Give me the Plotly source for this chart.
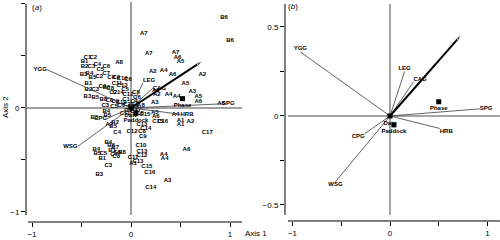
import plotly.graph_objects as go

# ---------------- data ----------------
# environmental vectors (panel a and panel b)
vec_names = ["YGG", "LEG", "CAG", "SPG", "HRB", "CPG", "WSG"]
vec_a_x = [-0.85, 0.12, 0.22, 0.92, 0.50, -0.24, -0.54]
vec_a_y = [0.37, 0.24, 0.19, 0.04, -0.06, -0.10, -0.37]
vec_b_x = [-0.92, 0.15, 0.24, 0.92, 0.51, -0.26, -0.56]
vec_b_y = [0.36, 0.25, 0.19, 0.04, -0.07, -0.10, -0.37]

# bold arrow
arrow_a = [0.72, 0.45]
arrow_b = [0.73, 0.455]

# factor centroids
fac_names = ["Phase", "Paddock", "Date"]
fac_a_x = [0.52, 0.05, 0.0]
fac_a_y = [0.09, -0.05, 0.0]
fac_b_x = [0.50, 0.04, 0.0]
fac_b_y = [0.08, -0.05, 0.0]

# site scores (panel a)
site_lab = [
    "B6", "B6", "A7", "A7", "A7", "A6", "A5", "A2", "A4", "A6", "A2", "A5", "A3", "A4", "A4",
    "A5", "A6", "A3", "A6", "A2", "A6", "A8",
    "C8", "C6", "C4", "A8", "C7",
    "C1", "C2", "B1", "B2", "C3", "C4", "C5", "C6", "B3", "B4", "C7", "B5", "C2", "C8", "C9",
    "C10", "B1", "C11", "C13", "C6", "C4", "B6", "C8", "B2", "C3", "C2", "C14", "C5", "C12",
    "B3", "B5", "B8", "C8", "C9", "C10", "C1", "C3", "C5", "C6", "C2",
    "C1", "C9", "C11", "C14", "C17",
    "B4", "B5", "B3", "B2", "B5", "A7", "C4", "C12", "C13", "C14", "C8", "C9", "C15", "C16",
    "A1", "A1", "A2", "A4", "A5", "A6", "C15", "C8", "C17", "C10", "C13", "C12", "C11", "A1",
    "C13", "C15", "C16", "C14", "A3", "A4", "A4", "A6", "B4", "B6", "B7", "B1", "C6", "B8",
    "C8", "C7", "B4", "B5", "C5", "B1", "C3", "B3",
]
site_x = [
    0.94, 1.00, 0.13, 0.18, 0.45, 0.47, 0.50, 0.22, 0.33, 0.42, 0.72, 0.55, 0.62, 0.38, 0.46,
    0.68, 0.68, 0.24, 0.91, 0.26, 0.25, -0.12,
    0.05, 0.06, 0.03, 0.10, 0.04,
    -0.44, -0.38, -0.47, -0.47, -0.40, -0.34, -0.31, -0.25, -0.48, -0.42, -0.25, -0.39, -0.32, -0.20, -0.15,
    -0.09, -0.43, -0.14, -0.09, -0.03, -0.29, -0.25, -0.21, -0.43, -0.36, -0.18, -0.13, -0.06, -0.03,
    -0.44, -0.36, -0.28, -0.22, -0.16, -0.10, -0.05, -0.26, -0.17, -0.10, -0.04,
    -0.03, 0.03, -0.06, 0.02, 0.05,
    -0.25, -0.24, -0.37, -0.16, -0.18, -0.22, -0.14, 0.01, 0.11, 0.15, 0.11, 0.12, 0.27, 0.32,
    0.50, 0.50, 0.60, 0.45, 0.24, 0.25, 0.14, 0.09, 0.77, 0.10, 0.11, 0.11, 0.02, 0.02,
    0.07, 0.16, 0.19, 0.20, 0.37, 0.33, 0.34, 0.56, -0.23, -0.20, -0.16, -0.19, -0.14, -0.09,
    -0.15, -0.17, -0.35, -0.34, -0.28, -0.29, -0.23, -0.32,
]
site_y = [
    0.87, 0.65, 0.72, 0.52, 0.53, 0.49, 0.45, 0.35, 0.36, 0.32, 0.32, 0.24, 0.16, 0.13, 0.11,
    0.11, 0.06, 0.05, 0.04, 0.13, 0.17, 0.44,
    0.15, 0.10, 0.06, 0.02, 0.03,
    0.49, 0.49, 0.45, 0.40, 0.40, 0.42, 0.37, 0.40, 0.32, 0.33, 0.33, 0.29, 0.30, 0.29, 0.29,
    0.28, 0.24, 0.24, 0.22, 0.27, 0.21, 0.20, 0.19, 0.18, 0.18, 0.15, 0.15, 0.18, 0.13,
    0.11, 0.10, 0.08, 0.07, 0.06, 0.05, 0.08, 0.02, 0.01, 0.02, 0.03,
    -0.02, -0.03, -0.05, 0.01, -0.01,
    -0.03, -0.07, -0.09, -0.14, -0.18, -0.16, -0.24, -0.23, -0.16, -0.20, -0.23, -0.27, -0.13, -0.13,
    -0.12, -0.16, -0.13, -0.06, -0.04, -0.08, -0.06, -0.05, -0.24, -0.36, -0.42, -0.46, -0.48, -0.53,
    -0.51, -0.56, -0.62, -0.76, -0.70, -0.45, -0.49, -0.40, -0.33, -0.36, -0.38, -0.41, -0.43, -0.43,
    -0.47, -0.45, -0.40, -0.44, -0.44, -0.49, -0.55, -0.64,
]

# ---------------- styling ----------------
FONT = "Liberation Sans, Arial, sans-serif"
pos_a = ["middle left", "top right", "middle right", "middle right", "middle right", "middle left", "middle left"]
pos_b = ["top center", "top center", "top right", "middle right", "bottom right", "bottom left", "bottom center"]

fig = go.Figure()


def seg(xs, ys):
    lx, ly = [], []
    for x, y in zip(xs, ys):
        lx += [0, x, None]
        ly += [0, y, None]
    return lx, ly


for (vx, vy, arr, fx, fy, pos, xa, ya, lcol) in [
    (vec_a_x, vec_a_y, arrow_a, fac_a_x, fac_a_y, pos_a, "x", "y", "#3a3a3a"),
    (vec_b_x, vec_b_y, arrow_b, fac_b_x, fac_b_y, pos_b, "x2", "y2", "#3a3a3a"),
]:
    if xa == "x":
        fig.add_trace(go.Scatter(x=site_x, y=site_y, text=site_lab, mode="text",
                                 textfont=dict(size=6, family=FONT, color="black", weight="bold"),
                                 xaxis=xa, yaxis=ya, hoverinfo="skip", cliponaxis=False))
    lx, ly = seg(vx, vy)
    fig.add_trace(go.Scatter(x=lx, y=ly, mode="lines", line=dict(color=lcol, width=0.8),
                             xaxis=xa, yaxis=ya, hoverinfo="skip"))
    fig.add_trace(go.Scatter(x=[0, arr[0]], y=[0, arr[1]], mode="lines+markers",
                             line=dict(color="black", width=2),
                             marker=dict(symbol="arrow", angleref="previous", size=[0, 6], color="black"),
                             xaxis=xa, yaxis=ya, hoverinfo="skip"))
    fig.add_trace(go.Scatter(x=vx, y=vy, text=vec_names, mode="text", textposition=pos,
                             textfont=dict(size=6, family=FONT, color="black", weight="bold"),
                             xaxis=xa, yaxis=ya, hoverinfo="skip", cliponaxis=False))
    fig.add_trace(go.Scatter(x=fx, y=fy, text=fac_names, mode="markers+text", textposition="bottom center",
                             marker=dict(symbol="square", size=5, color="black"),
                             textfont=dict(size=6, family=FONT, color="black", weight="bold"),
                             xaxis=xa, yaxis=ya, hoverinfo="skip", cliponaxis=False))

# axes frame lines and reference lines
shapes = [
    # panel a axes
    dict(type="line", xref="x domain", yref="y", x0=0, x1=0, y0=-1.03, y1=1.0, line=dict(color="black", width=1)),
    dict(type="line", xref="x", yref="y domain", x0=-1.04, x1=1.121, y0=0, y1=0, line=dict(color="black", width=1)),
    # panel a reference lines
    dict(type="line", xref="x", yref="y", x0=-1.05, x1=1.121, y0=0, y1=0, line=dict(color="#a0a0a0", width=2), layer="below"),
    dict(type="line", xref="x", yref="y", x0=0, x1=0, y0=-1.03, y1=1.019, line=dict(color="#a0a0a0", width=2), layer="below"),
    # panel b axes
    dict(type="line", xref="x2 domain", yref="y2", x0=0, x1=0, y0=-0.556, y1=0.63, line=dict(color="black", width=1)),
    dict(type="line", xref="x2", yref="y2 domain", x0=-1.046, x1=1.128, y0=0, y1=0, line=dict(color="black", width=1)),
    # panel b reference lines
    dict(type="line", xref="x2", yref="y2", x0=-1.046, x1=1.128, y0=0, y1=0, line=dict(color="#4a4a4a", width=1), layer="below"),
    dict(type="line", xref="x2", yref="y2", x0=0, x1=0, y0=-0.556, y1=0.63, line=dict(color="#4a4a4a", width=1), layer="below"),
]

tickfont = dict(size=8, family=FONT, color="black")
common = dict(showgrid=False, zeroline=False, showline=False, ticks="outside", ticklen=4,
              tickwidth=1, tickcolor="black", tickfont=tickfont, fixedrange=True)


def ann(text, px, py, angle=0):
    return dict(text=text, xref="paper", yref="paper", x=px / 500, y=1 - py / 240, showarrow=False,
                xanchor="center", yanchor="middle", textangle=angle,
                font=dict(size=8, family=FONT, color="black"))


fig.update_layout(
    width=500, height=240, margin=dict(l=0, r=0, t=0, b=0, pad=0),
    paper_bgcolor="white", plot_bgcolor="white", showlegend=False,
    xaxis=dict(domain=[0.052, 0.484], range=[-1.0606, 1.1212], tickvals=[-1, 0, 1],
               minor=dict(tickvals=[-0.5, 0.5], ticks="outside", ticklen=4, tickcolor="black"),
               anchor="y", **common),
    yaxis=dict(domain=[0.075, 0.99167], range=[-1.0962, 1.0192], tickvals=[-1, 0, 1],
               minor=dict(tickvals=[-0.5, 0.5], ticks="outside", ticklen=4, tickcolor="black"),
               anchor="x", **common),
    xaxis2=dict(domain=[0.57, 1.0], range=[-1.0769, 1.1282], tickvals=[-1, 0, 1],
                minor=dict(tickvals=[-0.5, 0.5], ticks="outside", ticklen=4, tickcolor="black"),
                anchor="y2", **common),
    yaxis2=dict(domain=[0.0792, 0.99167], range=[-0.5899, 0.6404], tickvals=[-0.5, 0, 0.5],
                minor=dict(tickvals=[-0.25, 0.25], ticks="outside", ticklen=4, tickcolor="black"),
                anchor="x2", **common),
    shapes=shapes,
    annotations=[
        ann("Axis 1", 256, 233),
        ann("Axis 2", 5, 107, -90),
        ann("(<i>a</i>)", 37, 7),
        ann("(<i>b</i>)", 293, 6),
    ],
)

fig.write_html("out.html", config={"displayModeBar": False},
               post_script="document.body.style.margin='0';document.body.style.overflow='hidden';")
